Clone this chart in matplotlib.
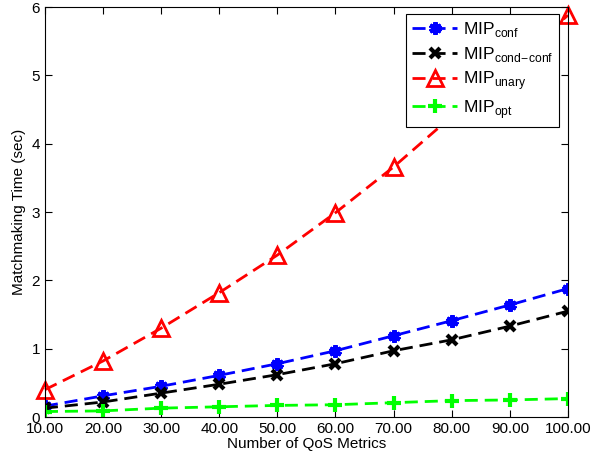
import matplotlib
matplotlib.use("Agg")

import matplotlib.pyplot as plt

plt.rcParams["font.family"] = ["Liberation Sans", "DejaVu Sans"]
plt.rcParams["mathtext.fontset"] = "custom"
plt.rcParams["mathtext.rm"] = "Liberation Sans"

metryki = [10, 20, 30, 40, 50, 60, 70, 80, 90, 100]
tick_labels = ["%.2f" % m for m in metryki]

mip_conf = [0.16, 0.31, 0.45, 0.61, 0.78, 0.97, 1.19, 1.41, 1.64, 1.88]
mip_cond_conf = [0.13, 0.22, 0.35, 0.48, 0.62, 0.78, 0.97, 1.13, 1.33, 1.55]
mip_unary = [0.40, 0.82, 1.30, 1.82, 2.37, 2.99, 3.66, 4.40, 5.12, 5.88]
mip_opt = [0.08, 0.09, 0.13, 0.15, 0.17, 0.18, 0.21, 0.24, 0.25, 0.27]

fig = plt.figure(figsize=(5.91, 4.67), dpi=100)
ax = fig.add_axes([0.076, 0.107, 0.885, 0.878])

kreska = (4.7, 2.5)

ax.plot(metryki, mip_conf, "--", dashes=kreska, color="#0000ff", lw=2, marker=(6, 2, 0),
        ms=9, mew=3, label=r"MIP$_{\mathregular{conf}}$")
ax.plot(metryki, mip_cond_conf, "--", dashes=kreska, color="black", lw=2, marker="x",
        ms=7, mew=3, label=r"MIP$_{\mathregular{cond\!-\!conf}}$")
ax.plot(metryki, mip_unary, "--", dashes=kreska, color="#ff0000", lw=2, marker="^",
        ms=12, mew=2, mfc="none", label=r"MIP$_{\mathregular{unary}}$", clip_on=False)
ax.plot(metryki, mip_opt, "--", dashes=kreska, color="#00ff00", lw=2, marker="+",
        ms=10, mew=3, label=r"MIP$_{\mathregular{opt}}$")

ax.set_xlim(10, 100)
ax.set_ylim(0, 6)
ax.set_xticks(metryki)
ax.set_xticklabels(tick_labels)
ax.set_yticks(range(7))
ax.tick_params(direction="in", top=True, right=True, labelsize=11, length=5)
ax.set_xlabel("Number of QoS Metrics", fontsize=11, labelpad=1)
ax.set_ylabel("Matchmaking Time (sec)", fontsize=11, labelpad=4)

leg = ax.legend(loc="upper right", bbox_to_anchor=(0.983, 0.983), borderaxespad=0,
                fontsize=12.5, fancybox=False, framealpha=1, edgecolor="black",
                handlelength=2.6, borderpad=0.35, labelspacing=0.32, handletextpad=0.3)
leg.get_frame().set_linewidth(0.8)
leg.set_zorder(5)

fig.savefig("out.png", dpi=100)
